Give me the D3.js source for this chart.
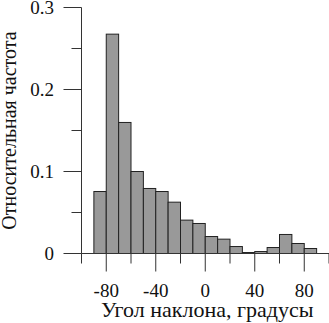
<!DOCTYPE html>
<html>
<head>
<meta charset="utf-8">
<script src="https://cdn.jsdelivr.net/npm/d3@7"></script>
<style>
  body { margin: 0; background: #fff; }
  svg { display: block; }
</style>
</head>
<body>
<svg id="chart" width="329" height="323"></svg>
<script>
// histogram bins (degrees) and relative frequencies
const binEdges = [-90, -80, -70, -60, -50, -40, -30, -20, -10, 0, 10, 20, 30, 40, 50, 60, 70, 80, 90];
const freqs = [0.0756, 0.2675, 0.1598, 0.1000, 0.0793, 0.0756, 0.0626, 0.0407, 0.0366,
               0.0207, 0.0175, 0.0085, 0.0012, 0.0024, 0.0073, 0.0232, 0.0122, 0.0061];

const xTicks = [-100, -80, -60, -40, -20, 0, 20, 40, 60, 80, 100];
const xLabels = [-80, -40, 0, 40, 80];
const yTicks = [0, 0.05, 0.1, 0.15, 0.2, 0.25, 0.3];
const yLabels = [0, 0.1, 0.2, 0.3];

const xTitle = 'Угол наклона, градусы';
const yTitle = 'Относительная частота';

const bins = freqs.map((f, i) => ({x0: binEdges[i], x1: binEdges[i + 1], value: f}));

const svg = d3.select('#chart')
    .style('font-family', '"Liberation Serif", "Times New Roman", serif');

const x = d3.scaleLinear()
    .domain([-100, 100])
    .range([81.5, 329]);

const y = d3.scaleLinear()
    .domain([0, 0.3])
    .range([253.5, 7.5]);

const majorLen = 18;
const minorLen = 10;
const lineColor = '#333';

// bars
svg.append('g')
  .selectAll('rect')
  .data(bins)
  .join('rect')
    .attr('x', d => x(d.x0))
    .attr('y', d => y(d.value))
    .attr('width', d => x(d.x1) - x(d.x0))
    .attr('height', d => y(0) - y(d.value))
    .attr('fill', '#999')
    .attr('stroke', '#222')
    .attr('stroke-width', 1);

// y axis
const yAxis = svg.append('g');

yAxis.append('line')
    .attr('x1', x(-100)).attr('x2', x(-100))
    .attr('y1', y(0.3)).attr('y2', y(0))
    .attr('stroke', lineColor);

yAxis.selectAll('.ytick')
  .data(yTicks)
  .join('line')
    .attr('class', 'ytick')
    .attr('x1', d => x(-100) - (yLabels.some(v => Math.abs(v - d) < 1e-9) ? majorLen : minorLen))
    .attr('x2', x(-100))
    .attr('y1', d => y(d)).attr('y2', d => y(d))
    .attr('stroke', lineColor);

yAxis.selectAll('.ylabel')
  .data(yLabels)
  .join('text')
    .attr('class', 'ylabel')
    .attr('x', 54)
    .attr('y', d => y(d))
    .attr('dy', '0.36em')
    .attr('text-anchor', 'end')
    .attr('font-size', 19)
    .attr('fill', '#111')
    .text(d => d === 0 ? '0' : d3.format('.1f')(d));

// x axis
const xAxis = svg.append('g');

xAxis.append('line')
    .attr('x1', x(-100)).attr('x2', x(100))
    .attr('y1', y(0)).attr('y2', y(0))
    .attr('stroke', lineColor);

xAxis.selectAll('.xtick')
  .data(xTicks)
  .join('line')
    .attr('class', 'xtick')
    .attr('x1', d => x(d)).attr('x2', d => x(d))
    .attr('y1', y(0))
    .attr('y2', d => y(0) + (xLabels.includes(d) ? majorLen : minorLen))
    .attr('stroke', lineColor);

xAxis.selectAll('.xlabel')
  .data(xLabels)
  .join('text')
    .attr('class', 'xlabel')
    .attr('x', d => x(d))
    .attr('y', 297)
    .attr('text-anchor', 'middle')
    .attr('font-size', 19)
    .attr('fill', '#111')
    .text(d => d);

// titles
svg.append('text')
    .attr('x', x(0) + 2)
    .attr('y', 317)
    .attr('text-anchor', 'middle')
    .attr('font-size', 22)
    .attr('fill', '#111')
    .text(xTitle);

svg.append('text')
    .attr('transform', `translate(16,${(y(0) + y(0.3)) / 2}) rotate(-90)`)
    .attr('text-anchor', 'middle')
    .attr('font-size', 20)
    .attr('fill', '#111')
    .text(yTitle);
</script>
</body>
</html>
